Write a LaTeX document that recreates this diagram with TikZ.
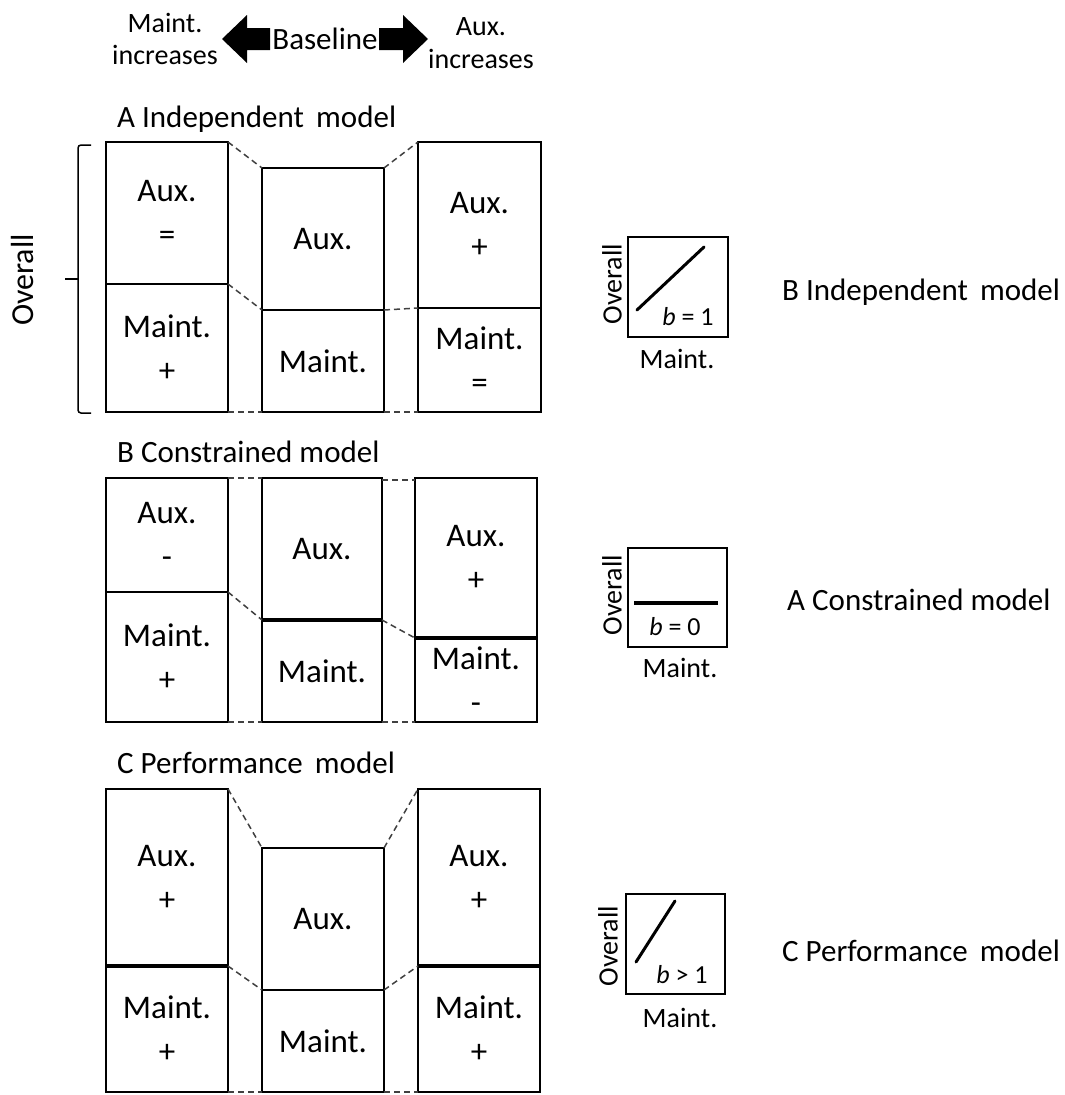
\documentclass[tikz,border=0pt]{standalone}
\usepackage{fontspec}
\setmainfont{Carlito}
\begin{document}
\begin{tikzpicture}[x=1pt,y=-1pt,
  box/.style={draw, line width=1.8pt, anchor=north west, inner sep=0pt, outer sep=0pt, align=center, font=\fontsize{33}{44}\selectfont},
  plot/.style={draw, line width=1.8pt, anchor=north west, inner sep=0pt, outer sep=0pt},
  link/.style={dashed, dash pattern=on 6pt off 4pt, line width=1.5pt, black!75},
  thickdiv/.style={line width=3.6pt},
  title/.style={font=\fontsize{31}{33}\selectfont, anchor=base west, inner sep=0pt},
  toplab/.style={font=\fontsize{28}{30}\selectfont, anchor=base, inner sep=0pt},
  curve/.style={line width=3pt, line cap=round},
  axlab/.style={font=\fontsize{28}{30}\selectfont, inner sep=0pt},
  blab/.style={font=\fontsize{26}{28}\selectfont, inner sep=0pt, anchor=base},
  fat/.style={fill=black}
]
\useasboundingbox (0,0) rectangle (1065,1095);

% top legend
\node[toplab] (tl1) at (165,32) {Maint.};
\node[toplab] (tl2) at (165,64) {increases};
\node[toplab, font=\fontsize{31}{33}\selectfont] (tb) at (325,49) {Baseline};
\node[toplab] (tr1) at (481,35) {Aux.};
\node[toplab] (tr2) at (481,68) {increases};
\fill[fat] (222,39) -- (247,15) -- (247,28) -- (270,28) -- (270,50) -- (247,50) -- (247,63) -- cycle;
\fill[fat] (428,39) -- (403,15) -- (403,28) -- (379,28) -- (379,50) -- (403,50) -- (403,63) -- cycle;

% ---------- A ----------
\node[title] (tA) at (117,127) {A Independent\, model};
\node[box, minimum width=122, minimum height=142] (A1a) at (106,142) {Aux.\\=};
\node[box, minimum width=122, minimum height=128] (A1m) at (106,284) {Maint.\\+};
\node[box, minimum width=122, minimum height=142] (A2a) at (262,168) {Aux.};
\node[box, minimum width=122, minimum height=102] (A2m) at (262,310) {Maint.};
\node[box, minimum width=123, minimum height=166] (A3a) at (418,142) {Aux.\\+};
\node[box, minimum width=123, minimum height=104] (A3m) at (418,308) {Maint.\\=};
\draw[link] (A1a.north east) -- (A2a.north west);
\draw[link] (A1a.south east) -- (A2a.south west);
\draw[link] (A1m.south east) -- (A2m.south west);
\draw[link] (A2a.north east) -- (A3a.north west);
\draw[link] (A2a.south east) -- (A3a.south west);
\draw[link] (A2m.south east) -- (A3m.south west);

% bracket
\coordinate (brT) at (91,145);
\coordinate (brB) at (91,413);
\coordinate (brM) at (65,279);
\draw[line width=1.5pt, rounded corners=3pt] (brT) -- (78,145) -- (78,413) -- (brB);
\draw[line width=1.5pt] (78,279) -- (brM);
\node[font=\fontsize{32}{34}\selectfont, rotate=90, inner sep=0pt] (ov) at (23,280) {Overall};

% ---------- B ----------
\node[title] (tB) at (117,462) {B Constrained model};
\node[box, minimum width=122, minimum height=114] (B1a) at (106,478) {Aux.\\-};
\node[box, minimum width=122, minimum height=130] (B1m) at (106,592) {Maint.\\+};
\node[box, minimum width=120, minimum height=142] (B2a) at (262,478) {Aux.};
\node[box, minimum width=120, minimum height=102] (B2m) at (262,620) {Maint.};
\node[box, minimum width=122, minimum height=160] (B3a) at (415,478) {Aux.\\+};
\node[box, minimum width=122, minimum height=84] (B3m) at (415,638) {Maint.\\-};
\draw[thickdiv] (B2a.south west) -- (B2a.south east);
\draw[thickdiv] (B3a.south west) -- (B3a.south east);
\draw[link] (B1a.north east) -- (B2a.north west);
\draw[link] (B1a.south east) -- (B2a.south west);
\draw[link] (B1m.south east) -- (B2m.south west);
\draw[link] ([yshift=-2]B2a.north east) -- ([yshift=-2]B3a.north west);
\draw[link] (B2a.south east) -- (B3a.south west);
\draw[link] (B2m.south east) -- (B3m.south west);

% ---------- C ----------
\node[title] (tC) at (117,773) {C Performance\, model};
\node[box, minimum width=122, minimum height=177] (C1a) at (106,789) {Aux.\\+};
\node[box, minimum width=122, minimum height=126] (C1m) at (106,966) {Maint.\\+};
\node[box, minimum width=122, minimum height=142] (C2a) at (262,848) {Aux.};
\node[box, minimum width=122, minimum height=102] (C2m) at (262,990) {Maint.};
\node[box, minimum width=122, minimum height=177] (C3a) at (418,789) {Aux.\\+};
\node[box, minimum width=122, minimum height=126] (C3m) at (418,966) {Maint.\\+};
\draw[thickdiv] (C1a.south west) -- (C1a.south east);
\draw[thickdiv] (C3a.south west) -- (C3a.south east);
\draw[link] (C1a.north east) -- (C2a.north west);
\draw[link] (C1a.south east) -- (C2a.south west);
\draw[link] (C1m.south east) -- (C2m.south west);
\draw[link] (C2a.north east) -- (C3a.north west);
\draw[link] (C2a.south east) -- (C3a.south west);
\draw[link] (C2m.south east) -- (C3m.south west);

% ---------- small plots ----------
\node[plot, minimum width=100, minimum height=100] (P1) at (628,237) {};
\draw[curve] (637,310) -- (704,247);
\node[blab] (b1) at (688,325) {\textit{b} = 1};
\node[axlab, rotate=90] (o1) at (612,284) {Overall};
\node[axlab, anchor=base] (m1) at (677,368) {Maint.};
\node[title] (rB) at (782,300) {B Independent\, model};

\node[plot, minimum width=99, minimum height=99] (P2) at (628,548) {};
\draw[line width=3.2pt] (634,603) -- (718,603);
\node[blab] (b2) at (675,635) {\textit{b} = 0};
\node[axlab, rotate=90] (o2) at (612,595) {Overall};
\node[axlab, anchor=base] (m2) at (680,677) {Maint.};
\node[title] (rA) at (787,610) {A Constrained model};

\node[plot, minimum width=99, minimum height=100] (P3) at (626,894) {};
\draw[curve] (636,962) -- (675,901);
\node[blab] (b3) at (682,983) {\textit{b} > 1};
\node[axlab, rotate=90] (o3) at (608,946) {Overall};
\node[axlab, anchor=base] (m3) at (680,1027) {Maint.};
\node[title] (rC) at (782,961) {C Performance\, model};
\end{tikzpicture}
\end{document}
